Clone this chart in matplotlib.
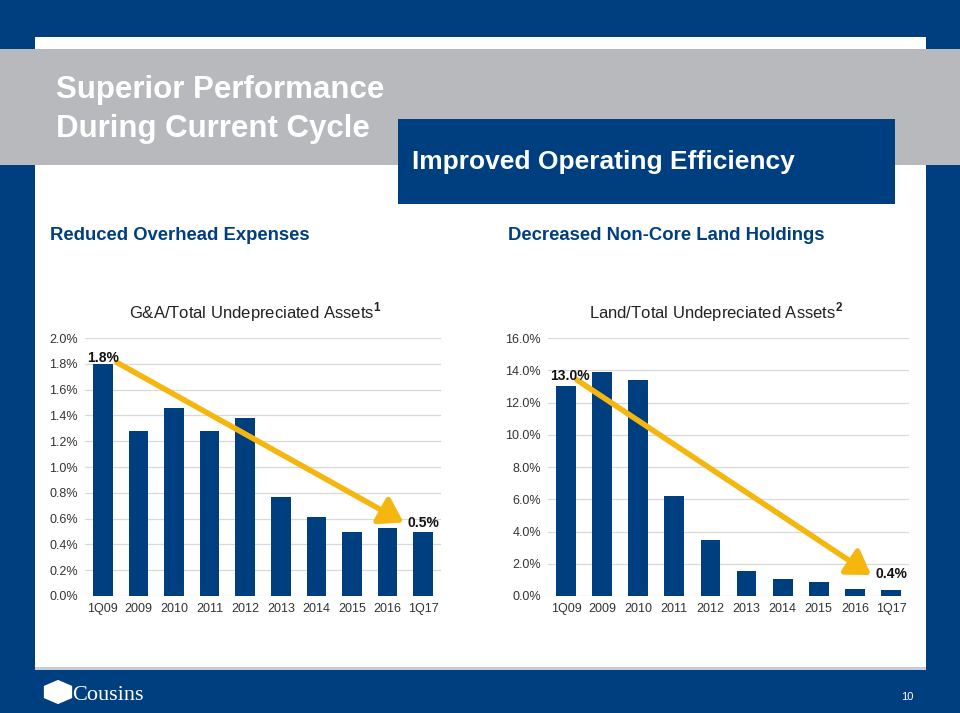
import matplotlib
matplotlib.use("Agg")
import matplotlib.pyplot as plt
from matplotlib.patches import Rectangle, RegularPolygon, FancyArrowPatch

plt.rcParams['font.family'] = ['Liberation Sans', 'DejaVu Sans']
plt.rcParams['mathtext.fontset'] = 'custom'
plt.rcParams['mathtext.rm'] = 'Liberation Sans'
plt.rcParams['mathtext.bf'] = 'Liberation Sans:bold'

categories = ["1Q09", "2009", "2010", "2011", "2012", "2013", "2014", "2015", "2016", "1Q17"]
ga_ratio = [1.80, 1.28, 1.46, 1.28, 1.38, 0.77, 0.61, 0.50, 0.53, 0.50]
land_ratio = [13.0, 13.9, 13.4, 6.2, 3.5, 1.55, 1.05, 0.87, 0.42, 0.36]
ga_ticks = [0.0, 0.2, 0.4, 0.6, 0.8, 1.0, 1.2, 1.4, 1.6, 1.8, 2.0]
land_ticks = [0.0, 2.0, 4.0, 6.0, 8.0, 10.0, 12.0, 14.0, 16.0]

NAVY = "#003f7f"
GRAY = "#b7b9bc"
GOLD = "#f5b70f"
W, H = 960, 713

fig = plt.figure(figsize=(9.6, 7.13), dpi=100)
fig.patch.set_facecolor(NAVY)


def px(x0, y0, x1, y1):
    # pixel box (top-left origin) -> figure rect
    return [x0 / W, 1 - y1 / H, (x1 - x0) / W, (y1 - y0) / H]


def box(x0, y0, x1, y1, color, z=0):
    r = px(x0, y0, x1, y1)
    fig.add_artist(Rectangle((r[0], r[1]), r[2], r[3], transform=fig.transFigure,
                             facecolor=color, edgecolor="none", zorder=z))


def ftext(x, y, s, **kw):
    fig.text(x / W, 1 - y / H, s, **kw)


# slide background
box(35, 37, 926, 668, "white")
box(35, 667, 926, 670, "#c5cdd8")
box(0, 49, 960, 165, GRAY)
box(398, 119, 895, 204, NAVY, z=1)

ftext(56, 90, "Superior Performance", color="white", fontsize=22.5, fontweight="bold", va="center")
ftext(56, 129, "During Current Cycle", color="white", fontsize=22.5, fontweight="bold", va="center")
ftext(412, 162, "Improved Operating Efficiency", color="white", fontsize=19, fontweight="bold",
      va="center", zorder=2)

ftext(50, 236, "Reduced Overhead Expenses", color=NAVY, fontsize=13.3, fontweight="bold", va="center")
ftext(508, 236, "Decreased Non-Core Land Holdings", color=NAVY, fontsize=13.3, fontweight="bold", va="center")

ftext(255, 312, r"G&A/Total Undepreciated Assets$^{\mathbf{1}}$", color="#222222", fontsize=12,
      ha="center", va="center")
ftext(716, 312, r"Land/Total Undepreciated Assets$^{\mathbf{2}}$", color="#222222", fontsize=12,
      ha="center", va="center")

# footer
fig.add_artist(RegularPolygon((58 / W, 1 - 692 / H), 6, radius=0.017, orientation=0,
                              transform=fig.transFigure, facecolor="white", edgecolor="none"))
ftext(72, 695, "Cousins", color="white", fontsize=16, family=["Liberation Serif"], va="center")
ftext(907, 697, "10", color="white", fontsize=8, ha="center", va="center")


def bar_chart(rect, values, ticks, ymax, fmt, labels, arrow):
    ax = fig.add_axes(rect)
    x = list(range(len(categories)))
    ax.bar(x, values, width=0.55, color=NAVY, zorder=2)
    ax.set_xlim(-0.5, len(categories) - 0.5)
    ax.set_ylim(0, ymax)
    ax.set_yticks(ticks)
    ax.set_yticklabels([fmt.format(t) for t in ticks])
    ax.set_xticks(x)
    ax.set_xticklabels(categories)
    ax.grid(axis="y", color="#d9d9d9", linewidth=0.9, zorder=0)
    for s in ax.spines.values():
        s.set_visible(False)
    ax.tick_params(length=0, labelsize=9, colors="#333333", pad=5)
    ax.set_facecolor("none")
    (x0, y0), (x1, y1) = arrow
    ax.add_patch(FancyArrowPatch((x0, y0), (x1, y1), arrowstyle="-|>,head_length=7,head_width=4.5",
                                 color=GOLD, linewidth=4, zorder=4, shrinkA=0, shrinkB=0,
                                 mutation_scale=2))
    for (lx, ly, txt) in labels:
        ax.text(lx, ly, txt, fontsize=10, fontweight="bold", ha="center", va="bottom",
                color="#111111", zorder=5)
    return ax


bar_chart(px(85, 338, 441, 596), ga_ratio, ga_ticks, 2.0, "{:.1f}%",
          [(0, ga_ratio[0] - 0.01, "1.8%"), (9, ga_ratio[9] + 0.01, "0.5%")],
          ((0.4, 1.81), (8.45, 0.57)))
bar_chart(px(548, 338, 909, 596), land_ratio, land_ticks, 16.0, "{:.1f}%",
          [(0.1, 13.2, "13.0%"), (9, 0.9, "0.4%")],
          ((0.3, 13.4), (8.45, 1.3)))

fig.savefig("out.png", dpi=100, facecolor=fig.get_facecolor())
